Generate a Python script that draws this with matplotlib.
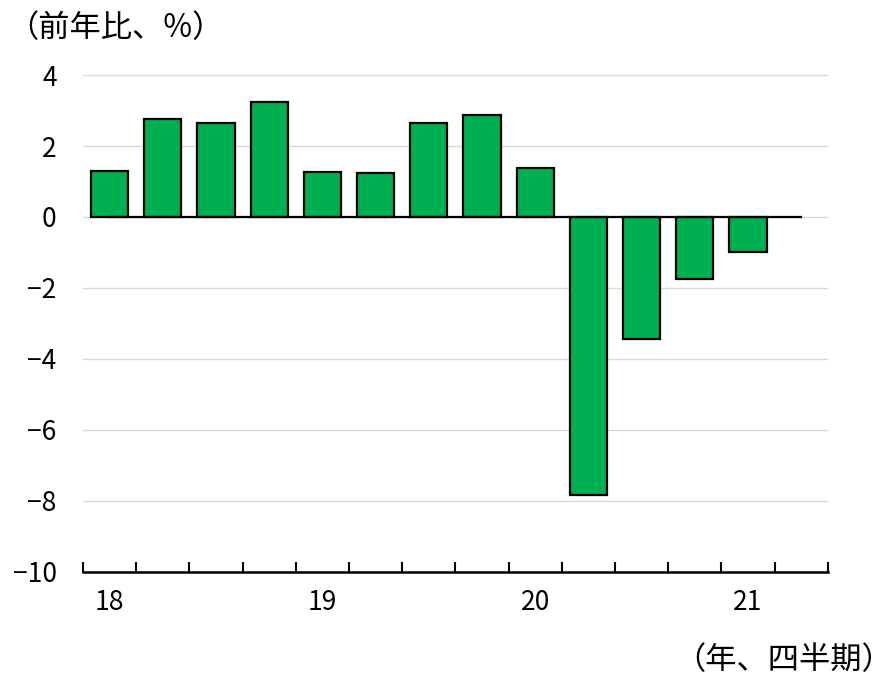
import matplotlib.pyplot as plt
import numpy as np

plt.rcParams["font.family"] = ["Noto Sans CJK JP", "DejaVu Sans"]

quarters = ["18Q1", "18Q2", "18Q3", "18Q4", "19Q1", "19Q2", "19Q3", "19Q4",
            "20Q1", "20Q2", "20Q3", "20Q4", "21Q1", "21Q2"]
values = [1.30, 2.75, 2.65, 3.25, 1.27, 1.23, 2.65, 2.87,
          1.37, -7.82, -3.45, -1.75, -0.98, np.nan]
year_labels = ["18", "19", "20", "21"]
year_first_quarter = [0, 4, 8, 12]
y_ticks = [4, 2, 0, -2, -4, -6, -8, -10]

fig = plt.figure(figsize=(8.93, 6.76), dpi=100)
ax = fig.add_axes([0.093, 0.154, 0.834, 0.735])

x = np.arange(len(quarters))
ax.bar(x, values, width=0.7, color="#00B050", edgecolor="black", linewidth=1.6, zorder=3)
ax.plot([x[0], x[-1]], [0, 0], color="black", linewidth=1.6, zorder=4)

ax.set_xlim(-0.5, len(quarters) - 0.5)
ax.set_ylim(-10, 4)
ax.set_yticks(y_ticks)
ax.set_yticklabels([str(v).replace("-", "\u2212") for v in y_ticks], fontsize=19)
ax.tick_params(axis="y", length=0, pad=19)
ax.grid(axis="y", color="#d9d9d9", linewidth=1.0, zorder=0)

# quarter boundaries as ticks, year labels as minor ticks
ax.set_xticks(np.arange(len(quarters) + 1) - 0.5)
ax.set_xticklabels([])
ax.tick_params(axis="x", which="major", direction="in", length=7, width=1.5, color="black")
ax.set_xticks(year_first_quarter, minor=True)
ax.set_xticklabels(year_labels, minor=True, fontsize=19)
ax.tick_params(axis="x", which="minor", length=0, pad=12)

for side in ["left", "right", "top"]:
    ax.spines[side].set_visible(False)
ax.spines["bottom"].set_linewidth(1.8)
ax.spines["bottom"].set_zorder(5)

fig.text(0.008, 0.958, "（前年比、%）", fontsize=22.5, ha="left", va="center")
fig.text(1.0, 0.024, "（年、四半期）", fontsize=22.5, ha="right", va="center")

fig.savefig("out.png", dpi=100)
